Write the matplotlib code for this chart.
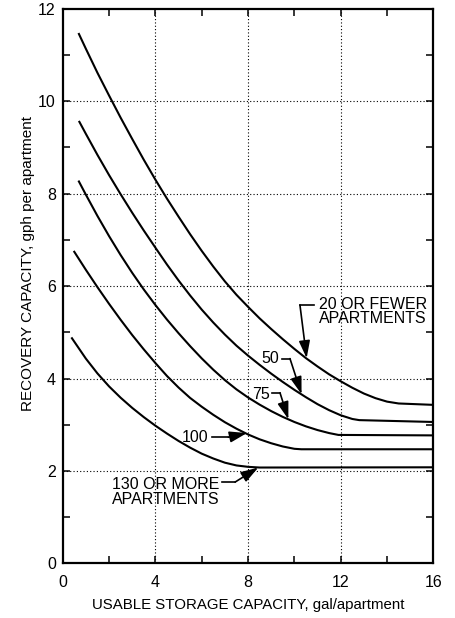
import matplotlib
matplotlib.use("Agg")
import matplotlib.pyplot as plt
from matplotlib.ticker import MultipleLocator

plt.rcParams['font.family'] = ['Liberation Sans', 'DejaVu Sans']

# Storage capacity (gal/apartment) and recovery capacity (gph/apartment)
x_20 = [0.7, 1, 1.5, 2, 2.5, 3, 3.5, 4, 4.5, 5, 5.5, 6, 6.5, 7, 7.5, 8, 8.5, 9, 9.5,
        10, 10.5, 11, 11.5, 12, 12.5, 13, 13.5, 14, 14.5, 16]
y_20 = [11.45, 11.13, 10.61, 10.12, 9.64, 9.18, 8.73, 8.30, 7.89, 7.50, 7.12, 6.76, 6.42,
        6.10, 5.81, 5.55, 5.30, 5.07, 4.85, 4.64, 4.44, 4.26, 4.09, 3.94, 3.80, 3.675,
        3.575, 3.50, 3.46, 3.43]

x_50 = [0.72, 1, 1.5, 2, 2.5, 3, 3.5, 4, 4.5, 5, 5.5, 6, 6.5, 7, 7.5, 8, 8.5, 9, 9.5,
        10, 10.5, 11, 11.5, 12, 12.5, 12.8, 16]
y_50 = [9.55, 9.29, 8.835, 8.40, 7.985, 7.585, 7.20, 6.83, 6.465, 6.12, 5.795, 5.49, 5.21,
        4.95, 4.71, 4.495, 4.295, 4.105, 3.925, 3.755, 3.595, 3.445, 3.315, 3.205, 3.125,
        3.10, 3.06]

x_75 = [0.7, 1, 1.5, 2, 2.5, 3, 3.5, 4, 4.5, 5, 5.5, 6, 6.5, 7, 7.5, 8, 8.5, 9, 9.5,
        10, 10.5, 11, 11.5, 11.9, 16]
y_75 = [8.26, 7.975, 7.515, 7.08, 6.67, 6.285, 5.925, 5.59, 5.275, 4.98, 4.70, 4.435, 4.19,
        3.965, 3.765, 3.59, 3.435, 3.295, 3.17, 3.06, 2.965, 2.885, 2.82, 2.78, 2.77]

x_100 = [0.5, 1, 1.5, 2, 2.5, 3, 3.5, 4, 4.5, 5, 5.5, 6, 6.5, 7, 7.5, 8, 8.5, 9, 9.5,
         10, 10.3, 16]
y_100 = [6.74, 6.35, 5.975, 5.615, 5.27, 4.94, 4.63, 4.335, 4.055, 3.805, 3.58, 3.39, 3.215,
         3.055, 2.915, 2.79, 2.685, 2.60, 2.53, 2.48, 2.47, 2.47]

x_130 = [0.4, 1, 1.5, 2, 2.5, 3, 3.5, 4, 4.5, 5, 5.5, 6, 6.5, 7, 7.5, 8, 8.5, 16]
y_130 = [4.87, 4.43, 4.11, 3.83, 3.585, 3.365, 3.165, 2.98, 2.81, 2.65, 2.505, 2.375, 2.27,
         2.18, 2.12, 2.09, 2.075, 2.08]

curves = [(x_20, y_20), (x_50, y_50), (x_75, y_75), (x_100, y_100), (x_130, y_130)]

FS = 11.5

fig = plt.figure(figsize=(4.55, 6.18), dpi=100)
ax = fig.add_axes([0.1378, 0.0882, 0.8147, 0.898])

for xs, ys in curves:
    ax.plot(xs, ys, color='black', lw=1.5, solid_joinstyle='round', zorder=3)

ax.set_xlim(0, 16)
ax.set_ylim(0, 12)

# dotted grid at every labelled interior value
for gx in (4, 8, 12):
    ax.axvline(gx, color='black', lw=0.8, ls=(0, (1, 2)), zorder=1)
for gy in (2, 4, 6, 8, 10):
    ax.axhline(gy, color='black', lw=0.8, ls=(0, (1, 2)), zorder=1)

ax.xaxis.set_major_locator(MultipleLocator(4))
ax.xaxis.set_minor_locator(MultipleLocator(2))
ax.yaxis.set_major_locator(MultipleLocator(2))
ax.yaxis.set_minor_locator(MultipleLocator(1))
ax.tick_params(which='both', direction='in', length=5, width=1.1,
               top=True, right=True, color='black')
ax.tick_params(axis='x', which='major', pad=8, labelsize=FS)
ax.tick_params(axis='y', which='major', pad=5, labelsize=FS)
for s in ax.spines.values():
    s.set_linewidth(1.6)

ax.set_xlabel('USABLE STORAGE CAPACITY, gal/apartment', fontsize=10.8, labelpad=6)
ax.set_ylabel('RECOVERY CAPACITY, gph per apartment', fontsize=11)
ax.yaxis.set_label_coords(-0.075, 0.54)

arrow = dict(arrowstyle='-|>,head_length=0.75,head_width=0.24', color='black',
             lw=1.2, shrinkA=0, shrinkB=0, mutation_scale=14)


def leader(text, tx, ty, ha, h0, h1, corner, tip, hy):
    ax.text(tx, ty, text, fontsize=FS, ha=ha, va='center', linespacing=0.95, zorder=4)
    ax.plot([h0, h1], [hy, hy], color='black', lw=1.2, zorder=4)
    ax.annotate('', xy=tip, xytext=(corner, hy), arrowprops=arrow, zorder=4)


leader('20 OR FEWER\nAPARTMENTS', 11.07, 5.445, 'left', 10.24, 10.86, 10.24, (10.53, 4.44), 5.59)
leader('50', 9.33, 4.43, 'right', 9.45, 9.81, 9.81, (10.31, 3.66), 4.43)
leader('75', 8.95, 3.66, 'right', 9.02, 9.38, 9.38, (9.74, 3.12), 3.69)
leader('100', 6.28, 2.72, 'right', 6.43, 7.15, 7.15, (7.95, 2.82), 2.73)
leader('130 OR MORE\nAPARTMENTS', 2.11, 1.55, 'left', 6.86, 7.44, 7.44, (8.44, 2.075), 1.76)

fig.savefig('out.png', dpi=100)
